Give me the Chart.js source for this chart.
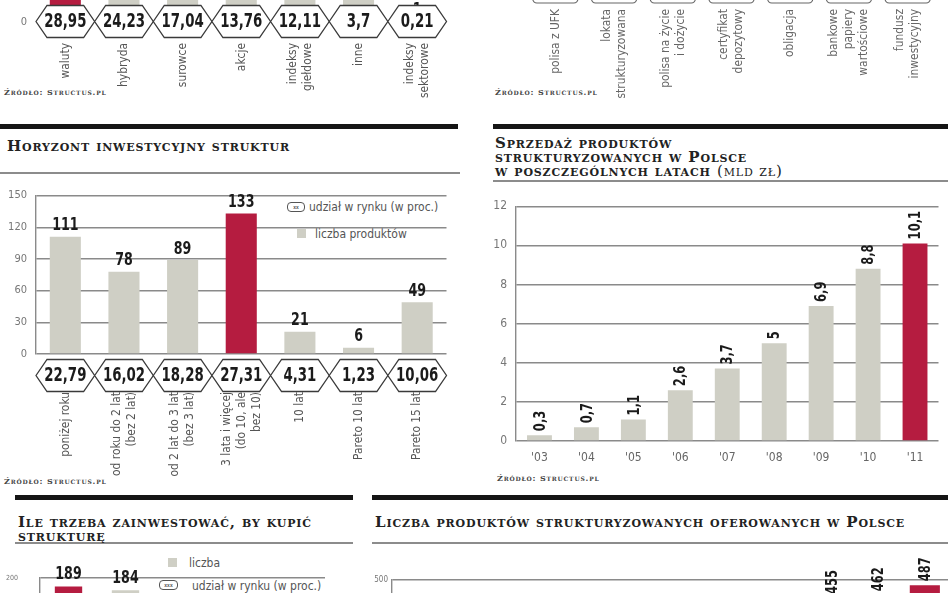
<!DOCTYPE html>
<html>
<head>
<meta charset="utf-8">
<script src="https://cdn.jsdelivr.net/npm/chart.js@4"></script>
<style>
  body { margin: 0; width: 948px; height: 593px; overflow: hidden; background: #fff; position: relative; }
  canvas { position: absolute; }
  .rule { position: absolute; background: #151515; height: 5px; }
  .thin { position: absolute; background: #8c8c8c; height: 2px; }
  .title { position: absolute; font: bold 15px "DejaVu Serif", serif; font-variant: small-caps; letter-spacing: 0.85px; color: #222; line-height: 14px; white-space: nowrap; }
  .title .light { font-weight: normal; }
  .src { position: absolute; font: bold 8px "DejaVu Serif", serif; font-variant: small-caps; letter-spacing: 0.8px; color: #444; }
  .leg { position: absolute; font: 12px "Liberation Sans Narrow", "DejaVu Sans Condensed", sans-serif; color: #555; white-space: nowrap; line-height: 12px; }
  .sq { position: absolute; background: #cfcfc5; }
  .pill { position: absolute; border: 1px solid #555; border-radius: 4px; font: bold 5px sans-serif; color: #555; text-align: center; }
</style>
</head>
<body>
<!-- section rules and titles -->
<div class="rule" style="left:0;top:124px;width:458px"></div>
<div class="rule" style="left:493px;top:124px;width:455px"></div>
<div class="thin" style="left:0;top:172px;width:460px"></div>
<div class="thin" style="left:493px;top:180px;width:455px"></div>
<div class="rule" style="left:15px;top:495px;width:338px"></div>
<div class="rule" style="left:372px;top:495px;width:576px"></div>
<div class="thin" style="left:15px;top:542px;width:338px"></div>
<div class="thin" style="left:372px;top:542px;width:576px"></div>

<div class="title" style="left:7px;top:139px">Horyzont inwestycyjny struktur</div>
<div class="title" style="left:495px;top:136px">Sprzedaż produktów<br>strukturyzowanych w Polsce<br>w poszczególnych latach <span class="light">(mld zł)</span></div>
<div class="title" style="left:18px;top:515px">Ile trzeba zainwestować, by kupić<br>strukturę</div>
<div class="title" style="left:375px;top:515px">Liczba produktów strukturyzowanych oferowanych w Polsce</div>

<div class="src" style="left:4px;top:87px">Źródło: Structus.pl</div>
<div class="src" style="left:495px;top:87px">Źródło: Structus.pl</div>
<div class="src" style="left:4px;top:476px">Źródło: Structus.pl</div>
<div class="src" style="left:497px;top:473px">Źródło: Structus.pl</div>

<!-- legends -->
<div class="pill" style="left:287px;top:202px;width:16px;height:8px;line-height:8px">xx</div>
<div class="leg" style="left:309px;top:201px">udział w rynku (w proc.)</div>
<div class="sq" style="left:297px;top:229px;width:9px;height:9px"></div>
<div class="leg" style="left:315px;top:228px">liczba produktów</div>

<div class="sq" style="left:168px;top:558px;width:9px;height:9px"></div>
<div class="leg" style="left:189px;top:557px">liczba</div>
<div class="pill" style="left:159px;top:580px;width:17px;height:8px;line-height:8px">xxx</div>
<div class="leg" style="left:192px;top:580px">udział w rynku (w proc.)</div>

<canvas id="typeChart" width="460" height="300" style="left:0;top:-200px"></canvas>
<canvas id="formChart" width="478" height="160" style="left:470px;top:-60px"></canvas>
<canvas id="horizonChart" width="460" height="300" style="left:0;top:180px"></canvas>
<canvas id="salesChart" width="478" height="280" style="left:470px;top:190px"></canvas>
<canvas id="minChart" width="340" height="250" style="left:0;top:550px"></canvas>
<canvas id="countChart" width="588" height="270" style="left:360px;top:540px"></canvas>

<script>
// -- typ struktury (góra, lewa) --
const typeLabels = [['waluty'], ['hybryda'], ['surowce'], ['akcje'], ['indeksy', 'giełdowe'], ['inne'], ['indeksy', 'sektorowe']];
const typeShare = [28.95, 24.23, 17.04, 13.76, 12.11, 3.7, 0.21];
const typeCount = [141, 118, 83, 67, 59, 20, 1]; // słupki ucięte u góry, szacunek

// -- forma struktury (góra, prawa) --
const formLabels = [['polisa z UFK'], ['lokata', 'strukturyzowana'], ['polisa na życie', 'i dożycie'], ['certyfikat', 'depozytowy'], ['obligacja'], ['bankowe', 'papiery', 'wartościowe'], ['fundusz', 'inwestycyjny']];

// -- horyzont inwestycyjny --
const horizonLabels = [['poniżej roku'], ['od roku do 2 lat', '(bez 2 lat)'], ['od 2 lat do 3 lat', '(bez 3 lat)'], ['3 lata i więcej', '(do 10, ale', 'bez 10)'], ['10 lat'], ['Pareto 10 lat'], ['Pareto 15 lat']];
const horizonCount = [111, 78, 89, 133, 21, 6, 49];
const horizonShare = [22.79, 16.02, 18.28, 27.31, 4.31, 1.23, 10.06];

// -- sprzedaż (mld zł) --
const salesYears = ["'03", "'04", "'05", "'06", "'07", "'08", "'09", "'10", "'11"];
const salesValues = [0.3, 0.7, 1.1, 2.6, 3.7, 5, 6.9, 8.8, 10.1];

// -- ile trzeba zainwestować (reszta poza kadrem) --
const minLabels = ['', '', '', '', ''];
const minCount = [189, 184, null, null, null];

// -- liczba produktów oferowanych (reszta poza kadrem) --
const countLabels = ['', '', '', '', '', '', '', '', '', '', '', ''];
const countValues = [null, null, null, null, null, null, null, null, null, 455, 462, 487];

const RED = '#b51c40';
const GRAY = '#cfcfc5';
const GRID = '#8a8a8a';
const NARROW = '"Liberation Sans Narrow", "DejaVu Sans Condensed", sans-serif';

const fmt = v => String(v).replace('.', ',');
const colorsFor = vals => {
  const max = Math.max(...vals.filter(v => v != null));
  return vals.map(v => (v === max ? RED : GRAY));
};

// tekst ściśnięty w poziomie (brak fontu "narrow")
const squeezed = (ctx, text, x, y, sx, angle) => {
  ctx.save();
  ctx.translate(x, y);
  if (angle) ctx.rotate(angle);
  ctx.scale(sx, 1);
  ctx.fillText(text, 0, 0);
  ctx.restore();
};

const valueLabels = (size, gap, rotate, sx) => ({
  id: 'valueLabels',
  afterDatasetsDraw(chart) {
    const ctx = chart.ctx;
    const data = chart.data.datasets[0].data;
    ctx.save();
    ctx.fillStyle = '#1b1b1b';
    ctx.font = `bold ${size}px ${NARROW}`;
    chart.getDatasetMeta(0).data.forEach((bar, i) => {
      if (data[i] == null) return;
      if (rotate) {
        ctx.textAlign = 'left';
        ctx.textBaseline = 'middle';
        squeezed(ctx, fmt(data[i]), bar.x + 1, bar.y - gap, sx, -Math.PI / 2);
      } else {
        ctx.textAlign = 'center';
        ctx.textBaseline = 'bottom';
        squeezed(ctx, fmt(data[i]), bar.x, bar.y - gap, sx, 0);
      }
    });
    ctx.restore();
  }
});

const hexLabels = (values, dy) => ({
  id: 'hexLabels',
  afterDraw(chart) {
    const ctx = chart.ctx, x = chart.scales.x;
    const half = (x.getPixelForTick(1) - x.getPixelForTick(0)) / 2;
    const cy = chart.chartArea.bottom + dy;
    const h = 16, inset = 11;
    ctx.save();
    values.forEach((v, i) => {
      const cx = x.getPixelForTick(i);
      ctx.beginPath();
      ctx.moveTo(cx - half, cy);
      ctx.lineTo(cx - half + inset, cy - h);
      ctx.lineTo(cx + half - inset, cy - h);
      ctx.lineTo(cx + half, cy);
      ctx.lineTo(cx + half - inset, cy + h);
      ctx.lineTo(cx - half + inset, cy + h);
      ctx.closePath();
      ctx.fillStyle = '#fff';
      ctx.fill();
      ctx.strokeStyle = '#3a3a3a';
      ctx.lineWidth = 1.3;
      ctx.stroke();
      ctx.fillStyle = '#1b1b1b';
      ctx.font = `bold 19px ${NARROW}`;
      ctx.textAlign = 'center';
      ctx.textBaseline = 'middle';
      squeezed(ctx, fmt(v), cx, cy + 1, 0.78, 0);
    });
    ctx.restore();
  }
});

const boxFrames = {
  id: 'boxFrames',
  afterDraw(chart) {
    const ctx = chart.ctx, x = chart.scales.x;
    const bottom = chart.chartArea.bottom;
    ctx.save();
    ctx.strokeStyle = '#666';
    ctx.lineWidth = 1.2;
    chart.data.labels.forEach((l, i) => {
      const cx = x.getPixelForTick(i);
      ctx.beginPath();
      ctx.roundRect(cx - 22.5, bottom - 26, 45, 26, 4);
      ctx.fillStyle = '#fff';
      ctx.fill();
      ctx.stroke();
    });
    ctx.restore();
  }
};

const categoryLabels = (top, size, color, lineH) => ({
  id: 'categoryLabels',
  afterDraw(chart) {
    const ctx = chart.ctx, x = chart.scales.x;
    ctx.save();
    ctx.font = `${size}px ${NARROW}`;
    ctx.fillStyle = color;
    ctx.textAlign = 'right';
    ctx.textBaseline = 'middle';
    chart.data.labels.forEach((label, i) => {
      const lines = [].concat(label);
      const cx = x.getPixelForTick(i);
      lines.forEach((t, k) => {
        const lx = cx + (k - (lines.length - 1) / 2) * lineH;
        squeezed(ctx, t, lx, chart.chartArea.bottom + top, 0.95, -Math.PI / 2);
      });
    });
    ctx.restore();
  }
});

const base = {
  responsive: false,
  animation: false,
  events: [],
  plugins: { legend: { display: false }, tooltip: { enabled: false } }
};

const hiddenX = height => ({
  grid: { display: false, drawTicks: false },
  border: { display: false },
  ticks: { display: false },
  afterFit: s => { s.height = height; }
});

const valueY = (max, step, width, size, pad, showGrid) => ({
  min: 0,
  max: max,
  ticks: { stepSize: step, padding: pad, color: '#777', font: { family: NARROW, size: size } },
  grid: { display: showGrid, color: GRID, lineWidth: 1.4, drawTicks: false },
  border: { display: showGrid, color: GRID, width: 1.4 },
  afterFit: s => { s.width = width; }
});

// typ struktury
new Chart(document.getElementById('typeChart'), {
  type: 'bar',
  data: { labels: typeLabels, datasets: [{ data: typeCount, backgroundColor: colorsFor(typeCount), barPercentage: 0.53, categoryPercentage: 1 }] },
  options: {
    ...base,
    layout: { padding: { top: 55, right: 13.5 } },
    scales: { x: hiddenX(78), y: valueY(150, 30, 36, 11, 9, false) }
  },
  plugins: [valueLabels(18, 2, false, 0.78), hexLabels(typeShare, -0.5), categoryLabels(21, 12.5, '#555', 15)]
});

// forma struktury
new Chart(document.getElementById('formChart'), {
  type: 'bar',
  data: { labels: formLabels, datasets: [] },
  options: {
    ...base,
    layout: { padding: { left: 56, right: 11 } },
    scales: { x: hiddenX(97), y: { display: false } }
  },
  plugins: [boxFrames, categoryLabels(6, 12.5, '#666', 15)]
});

// horyzont inwestycyjny
new Chart(document.getElementById('horizonChart'), {
  type: 'bar',
  data: { labels: horizonLabels, datasets: [{ data: horizonCount, backgroundColor: colorsFor(horizonCount), barPercentage: 0.53, categoryPercentage: 1 }] },
  options: {
    ...base,
    layout: { padding: { top: 7, right: 13.5 } },
    scales: { x: hiddenX(126), y: valueY(150, 30, 36, 11, 9, true) }
  },
  plugins: [valueLabels(18, 2, false, 0.78), hexLabels(horizonShare, 21.5), categoryLabels(38, 12.5, '#555', 15)]
});

// sprzedaż
new Chart(document.getElementById('salesChart'), {
  type: 'bar',
  data: { labels: salesYears, datasets: [{ data: salesValues, backgroundColor: colorsFor(salesValues), barPercentage: 0.53, categoryPercentage: 1 }] },
  options: {
    ...base,
    layout: { padding: { top: 16, right: 9.5 } },
    scales: {
      x: {
        grid: { display: false, drawTicks: false },
        border: { display: false },
        ticks: { padding: 10, color: '#666', font: { family: NARROW, size: 12 } },
        afterFit: s => { s.height = 29; }
      },
      y: valueY(12, 2, 46, 12, 9, true)
    }
  },
  plugins: [valueLabels(16, 4, true, 0.8)]
});

// ile trzeba zainwestować
new Chart(document.getElementById('minChart'), {
  type: 'bar',
  data: { labels: minLabels, datasets: [{ data: minCount, backgroundColor: colorsFor(minCount), barPercentage: 0.48, categoryPercentage: 1 }] },
  options: {
    ...base,
    layout: { padding: { top: 28, right: 15 } },
    scales: { x: hiddenX(68), y: valueY(200, 50, 40, 7, 22, true) }
  },
  plugins: [valueLabels(18, 3, false, 0.78)]
});

// liczba produktów oferowanych
new Chart(document.getElementById('countChart'), {
  type: 'bar',
  data: { labels: countLabels, datasets: [{ data: countValues, backgroundColor: colorsFor(countValues), barPercentage: 0.65, categoryPercentage: 1 }] },
  options: {
    ...base,
    layout: { padding: { top: 40, right: 0 } },
    scales: { x: hiddenX(30), y: valueY(500, 100, 32, 8, 4, true) }
  },
  plugins: [valueLabels(15, 4, true, 0.85)]
});
</script>
</body>
</html>
